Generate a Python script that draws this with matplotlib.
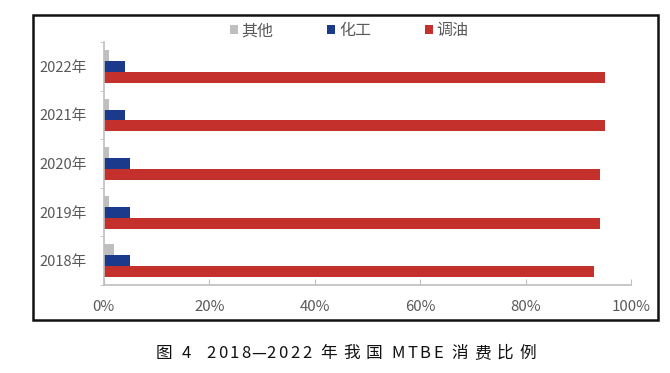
import matplotlib

matplotlib.use("Agg")
import matplotlib.pyplot as plt
import numpy as np
from matplotlib.patches import Patch, Rectangle

plt.rcParams["font.family"] = ["Noto Sans CJK SC", "DejaVu Sans"]
plt.rcParams["axes.unicode_minus"] = False

years = ["2018年", "2019年", "2020年", "2021年", "2022年"]
other = [2, 1, 1, 1, 1]
chemical = [5, 5, 5, 4, 4]
blending = [93, 94, 94, 95, 95]
series_names = ["其他", "化工", "调油"]
x_ticks = [0, 20, 40, 60, 80, 100]
caption = "图 4  2018—2022 年我国 MTBE 消费比例"

colors = ["#BFBFBF", "#1B3A8C", "#C4302B"]
text_gray = "#595959"
axis_gray = "#BFBFBF"


def is_cjk(ch):
    return ord(ch) > 0x2E80


def tracked_text(fig, cx_px, cy, s, size, **kw):
    # lay the caption out char by char so it gets the loose print spacing
    r = fig.canvas.get_renderer()
    widths = []
    for ch in s:
        if ch == " ":
            widths.append(4.0)
        else:
            t = fig.text(0, 0, ch, fontsize=size)
            widths.append(t.get_window_extent(r).width)
            t.remove()
    gaps = []
    for a, b in zip(s[:-1], s[1:]):
        if a == " " or b == " ":
            gaps.append(2.5)
        elif is_cjk(a) or is_cjk(b):
            gaps.append(6.0)
        elif a == "—" or b == "—":
            gaps.append(0.5)
        else:
            gaps.append(2.5)
    total = sum(widths) + sum(gaps)
    W = fig.get_figwidth() * fig.dpi
    x = cx_px - total / 2
    for i, (ch, w) in enumerate(zip(s, widths)):
        if ch != " ":
            fig.text(x / W, cy, ch, ha="left", va="center", fontsize=size, **kw)
        x += w + (gaps[i] if i < len(gaps) else 0)


fig = plt.figure(figsize=(6.7, 3.73), dpi=100)
ax = fig.add_axes([0.155, 0.236, 0.787, 0.651])

y = np.arange(len(years))
h = 0.226
for vals, off, c in zip([other, chemical, blending], [h, 0, -h], colors):
    ax.barh(y + off, vals, height=h, color=c, edgecolor="none")

ax.set_xlim(0, 100)
ax.set_ylim(-0.5, len(years) - 0.5)
ax.set_xticks(x_ticks)
ax.set_xticklabels([f"{t}%" for t in x_ticks])
ax.set_yticks(y)
ax.set_yticklabels(years)
ax.set_yticks(np.arange(len(years) + 1) - 0.5, minor=True)

for s in ["top", "right"]:
    ax.spines[s].set_visible(False)
for s in ["left", "bottom"]:
    ax.spines[s].set_color(axis_gray)
    ax.spines[s].set_linewidth(1.2)

ax.tick_params(axis="x", direction="in", length=4, color=axis_gray, labelsize=10.8,
               labelcolor=text_gray, pad=11)
ax.tick_params(axis="y", which="major", length=0, labelsize=10.6, labelcolor=text_gray, pad=12)
ax.tick_params(axis="y", which="minor", direction="out", length=3, color=axis_gray)

handles = [Patch(facecolor=c, edgecolor="none") for c in colors]
fig.legend(handles, series_names, loc="center", bbox_to_anchor=(0.521, 0.917), ncol=3,
           frameon=False, fontsize=11.5, labelcolor=text_gray, handlelength=0.5,
           handleheight=0.5, handletextpad=0.25, columnspacing=3.35)

fig.patches.append(Rectangle((0.049, 0.142), 0.933, 0.818, transform=fig.transFigure,
                             fill=False, edgecolor="#111111", linewidth=1.8))

tracked_text(fig, 346, 0.053, caption, 12, color="#111111")

fig.savefig("out.png", dpi=100)
plt.close(fig)
